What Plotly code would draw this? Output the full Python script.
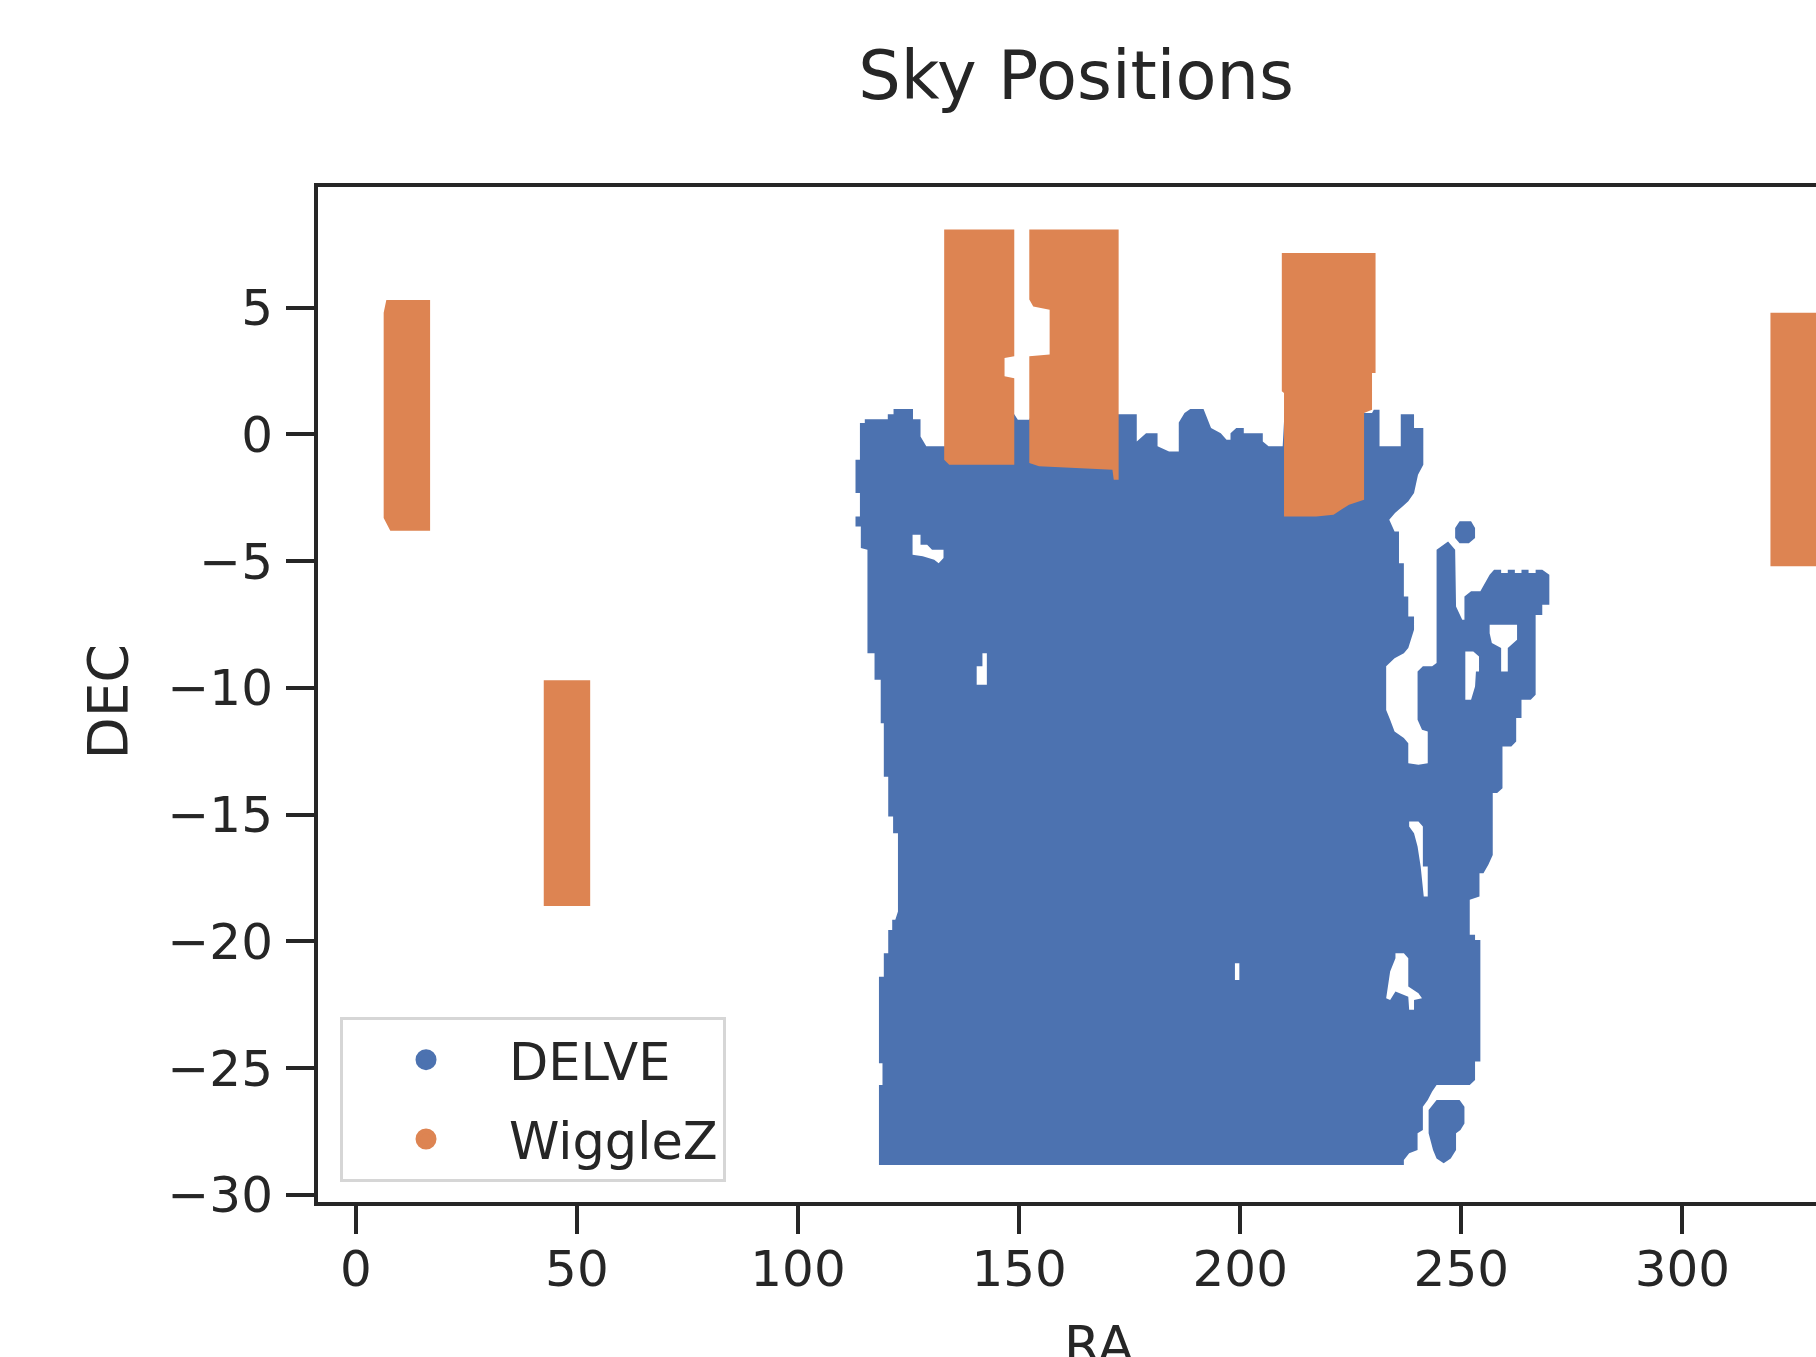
import plotly.graph_objects as go

# ---------------- data (RA, DEC in degrees) ----------------
# DELVE footprint: outer outline (clockwise on screen)
delve_outer_ra = [114.0, 115.1, 115.1, 120.3, 120.3, 121.6, 121.6, 126.0, 126.0, 127.7, 127.7, 129.0,
                  133.3, 133.5, 148.9, 149.7, 152.3, 152.8, 172.5, 173.5, 176.6, 176.6, 178.7, 181.3,
                  181.3, 183.9, 186.1, 186.1, 187.4, 188.7, 191.7, 193.4, 195.6, 196.9, 197.8, 197.8,
                  199.1, 200.8, 200.8, 205.1, 205.1, 206.4, 209.6, 210.0, 229.8, 230.2, 231.5, 231.5,
                  236.3, 236.3, 239.3, 239.3, 241.4, 241.4, 240.2, 239.3, 238.0, 236.7, 235.0, 233.7,
                  234.9, 235.9, 235.9, 237.0, 237.0, 238.0, 238.0, 239.3, 239.3, 238.0, 237.0, 234.9,
                  233.0, 233.0, 233.9, 234.9, 237.0, 238.0, 238.0,
                  240.3, 242.4, 242.4, 241.1, 240.1, 240.1, 241.3, 243.4, 244.4, 244.4, 247.0, 248.6,
                  248.8, 250.2, 250.7, 250.7, 252.2, 254.3, 256.4, 257.4,
                  259.0, 259.0, 260.5, 260.5, 262.1, 262.1, 263.6, 263.6, 265.2, 265.2, 266.8, 266.8,
                  268.3, 269.9, 269.9, 268.3, 268.3, 266.8, 266.8, 265.7, 263.6, 263.6, 262.4, 262.4,
                  261.3, 259.3, 259.3, 258.1, 257.1, 257.1, 256.1, 255.0, 254.1, 254.1, 251.9,
                  251.9, 253.1, 253.1, 254.3, 254.3, 253.1, 253.1, 251.9, 244.4, 243.4, 242.4, 241.3,
                  241.3, 240.1, 240.1, 238.2, 237.0, 237.0,
                  118.3,
                  118.3, 119.1, 119.1, 118.3, 118.3, 119.4, 119.4, 120.4, 120.4, 121.3, 121.3, 122.0,
                  122.6, 122.6, 122.6, 121.5, 121.5, 120.4, 120.4, 119.4, 119.4, 118.7, 118.7, 117.3,
                  117.3, 115.7, 115.7, 114.2, 114.2, 113.0, 113.0, 114.0, 114.0, 113.0, 113.0, 114.0]
delve_outer_dec = [0.45, 0.45, 0.60, 0.60, 0.80, 0.80, 1.00, 1.00, 0.60, 0.60, -0.08, -0.47,
                   -0.47, 0.80, 0.80, 0.58, 0.58, 0.80, 0.80, 0.80, 0.80, -0.28, 0.05, 0.05,
                   -0.47, -0.67, -0.67, 0.47, 0.84, 1.00, 1.00, 0.25, 0.05, -0.21, -0.21, 0.05,
                   0.25, 0.25, 0.05, 0.05, -0.28, -0.47, -0.47, 0.84, 0.84, 0.97, 0.97, -0.47,
                   -0.47, 0.80, 0.80, 0.25, 0.25, -1.20, -1.59, -2.31, -2.64, -2.84, -3.10, -3.37,
                   -3.83, -3.83, -5.08, -5.08, -6.39, -6.39, -7.18, -7.18, -7.71, -8.43, -8.63, -8.83,
                   -9.15, -10.87, -11.26, -11.72, -11.98, -12.18, -12.97,
                   -13.03, -12.97, -11.72, -11.65, -11.26, -9.35, -9.15, -9.15, -9.02, -4.55, -4.22, -4.55,
                   -6.79, -7.31, -7.31, -6.39, -6.19, -6.19, -5.54, -5.34,
                   -5.34, -5.47, -5.47, -5.34, -5.34, -5.47, -5.47, -5.34, -5.34, -5.47, -5.47, -5.34,
                   -5.34, -5.54, -6.72, -6.72, -7.12, -7.12, -10.27, -10.47, -10.47, -11.19, -11.19, -12.11,
                   -12.31, -12.31, -13.96, -14.15, -14.15, -16.59, -16.98, -17.31, -17.31, -18.23, -18.36,
                   -19.74, -19.74, -19.94, -19.94, -24.74, -24.74, -25.47, -25.66, -25.66, -25.92, -26.26, -26.52,
                   -27.44, -27.57, -28.23, -28.36, -28.62, -28.82,
                   -28.82,
                   -25.66, -25.66, -24.81, -24.81, -21.39, -21.39, -20.47, -20.47, -19.55, -19.55, -19.15, -19.15,
                   -18.82, -18.60, -15.73, -15.73, -15.07, -15.07, -13.50, -13.50, -11.39, -11.39, -9.68, -9.68,
                   -8.63, -8.63, -4.55, -4.48, -3.63, -3.63, -3.24, -3.24, -2.31, -2.31, -1.00, -1.00]

# DELVE holes (opposite winding), separated by None
delve_holes_ra = [125.9, 128.2, 130.8, 131.8, 132.9, 132.9, 130.3, 129.2, 127.7, 127.7, 125.9, None,
                  141.7, 140.4, 140.4, 142.7, 142.7, 141.7, None,
                  256.4, 256.9, 259.0, 259.0, 260.5, 260.5, 262.6, 262.6, 256.4, None,
                  250.9, 252.2, 253.1, 253.3, 254.0, 254.0, 252.7, 250.9, None,
                  238.2, 239.3, 240.1, 240.8, 241.5, 242.4, 242.4, 241.3, 241.3, 240.3, 238.2, None,
                  235.1, 233.9, 233.0, 233.9, 235.1, 238.0, 238.2, 239.3, 239.3, 241.1, 240.3, 238.0,
                  238.0, 237.0, 235.1, None,
                  198.8, 199.8, 199.8, 198.8]
delve_holes_dec = [-4.75, -4.81, -4.94, -5.08, -4.88, -4.55, -4.55, -4.35, -4.35, -3.96, -3.96, None,
                   -9.15, -9.15, -9.88, -9.88, -8.63, -8.63, None,
                   -7.84, -8.23, -8.43, -9.35, -9.35, -8.43, -8.10, -7.51, -7.51, None,
                   -10.47, -10.47, -9.94, -9.35, -9.35, -8.76, -8.56, -8.56, None,
                   -15.47, -15.73, -16.26, -17.05, -18.23, -18.23, -17.05, -17.05, -15.47, -15.27, -15.27, None,
                   -20.66, -21.19, -22.24, -22.31, -21.98, -22.18, -22.70, -22.70, -22.31, -22.24, -22.05, -21.78,
                   -20.66, -20.47, -20.47, None,
                   -21.52, -21.52, -20.86, -20.86]

# DELVE detached patches
delve_islands_ra = [249.6, 252.2, 253.1, 253.1, 251.7, 249.6, 248.6, 248.6, None,
                    244.4, 249.6, 250.7, 250.7, 249.8, 248.8, 248.8, 247.6, 246.0, 244.4, 243.6, 242.6, 242.6]
delve_islands_dec = [-3.43, -3.43, -3.69, -4.09, -4.29, -4.29, -4.09, -3.69, None,
                     -26.26, -26.26, -26.52, -27.18, -27.44, -27.57, -28.23, -28.56, -28.75, -28.56, -28.23, -27.57, -26.65]

# WiggleZ fields
wigglez_ra = [6.9, 16.8, 16.8, 7.8, 6.3, 6.3, None,
              42.5, 53.0, 53.0, 42.5, None,
              133.05, 148.9, 148.9, 146.7, 146.7, 148.9, 148.9, 134.2, 133.05, None,
              152.3, 172.5, 172.5, 171.4, 171.1, 154.5, 152.3, 152.3, 156.9, 156.9, 153.2, 152.3, None,
              209.4, 230.6, 230.6, 229.8, 229.8, 228.0, 228.0, 224.6, 222.8, 221.1, 217.2, 209.9, 209.9, 209.4, None,
              319.9, 336.0, 336.0, 319.9]
wigglez_dec = [5.3, 5.3, -3.8, -3.8, -3.3, 4.8, None,
               -9.7, -9.7, -18.6, -18.6, None,
               8.08, 8.08, 3.08, 3.01, 2.29, 2.22, -1.2, -1.2, -1.0, None,
               8.08, 8.08, -1.79, -1.79, -1.39, -1.26, -1.13, 3.08, 3.15, 4.92, 5.05, 5.32, None,
               7.16, 7.16, 2.42, 2.42, 0.97, 0.84, -2.58, -2.77, -2.97, -3.17, -3.24, -3.24, 1.63, 1.70, None,
               4.8, 4.8, -5.2, -5.2]

series_names = ["DELVE", "WiggleZ"]
x_ticks = [0, 50, 100, 150, 200, 250, 300]
y_ticks = [5, 0, -5, -10, -15, -20, -25, -30]

BLUE = "#4C72B0"
ORANGE = "#DD8452"
INK = "#262626"
FONT = "DejaVu Sans"

fig = go.Figure()

delve_ra = delve_outer_ra + [None] + delve_holes_ra + [None] + delve_islands_ra
delve_dec = delve_outer_dec + [None] + delve_holes_dec + [None] + delve_islands_dec

fig.add_trace(go.Scatter(x=delve_ra, y=delve_dec, mode="none", fill="toself",
                         fillcolor=BLUE, showlegend=False, hoverinfo="skip"))
fig.add_trace(go.Scatter(x=wigglez_ra, y=wigglez_dec, mode="none", fill="toself",
                         fillcolor=ORANGE, showlegend=False, hoverinfo="skip"))

# legend entries (marker symbols)
for name, col in zip(series_names, [BLUE, ORANGE]):
    fig.add_trace(go.Scatter(x=[None], y=[None], mode="markers", name=name,
                             legendgroup=name,
                             marker=dict(color=col, size=16, symbol="circle",
                                         line=dict(color=col, width=5))))

fig.update_layout(
    width=1816, height=1357,
    margin=dict(l=318, r=0, t=187, b=155, pad=0),
    paper_bgcolor="white", plot_bgcolor="white",
    font=dict(family=FONT, color=INK),
    title=dict(text="Sky Positions", font=dict(size=67, color=INK, family=FONT),
               x=1076 / 1816, xanchor="center", xref="container",
               y=1 - 76 / 1357, yanchor="middle", yref="container"),
    showlegend=True,
    legend=dict(x=0.0147, y=0.0197, xanchor="left", yanchor="bottom",
                bgcolor="rgba(255,255,255,0.8)", bordercolor="#d6d6d6", borderwidth=3,
                font=dict(size=51, color=INK, family=FONT),
                itemwidth=156, tracegroupgap=10, itemsizing="trace"),
)

fig.update_xaxes(range=[-8.55, 330.2], tickvals=x_ticks, ticks="outside", ticklen=28, tickwidth=4,
                 tickcolor=INK, showline=True, linecolor=INK, linewidth=4, mirror=True,
                 showgrid=False, zeroline=False, tickfont=dict(size=50, color=INK, family=FONT),
                 ticklabelstandoff=-8)
fig.update_yaxes(range=[-30.28, 9.76], tickvals=y_ticks, ticks="outside", ticklen=28, tickwidth=4,
                 tickcolor=INK, showline=True, linecolor=INK, linewidth=4,
                 showgrid=False, zeroline=False, tickfont=dict(size=50, color=INK, family=FONT),
                 ticklabelstandoff=3)

fig.add_annotation(text="DEC", xref="paper", yref="paper", x=-0.1405, y=0.4926,
                   xanchor="center", yanchor="middle", textangle=-90, showarrow=False,
                   font=dict(size=55, color=INK, family=FONT))
fig.add_annotation(text="RA", xref="paper", yref="paper", x=0.5214, y=-0.141,
                   xanchor="center", yanchor="middle", showarrow=False,
                   font=dict(size=52, color=INK, family=FONT))

fig.write_html("out.html", config={"displayModeBar": False},
               post_script="document.body.style.margin='0';document.body.style.overflow='hidden';")
